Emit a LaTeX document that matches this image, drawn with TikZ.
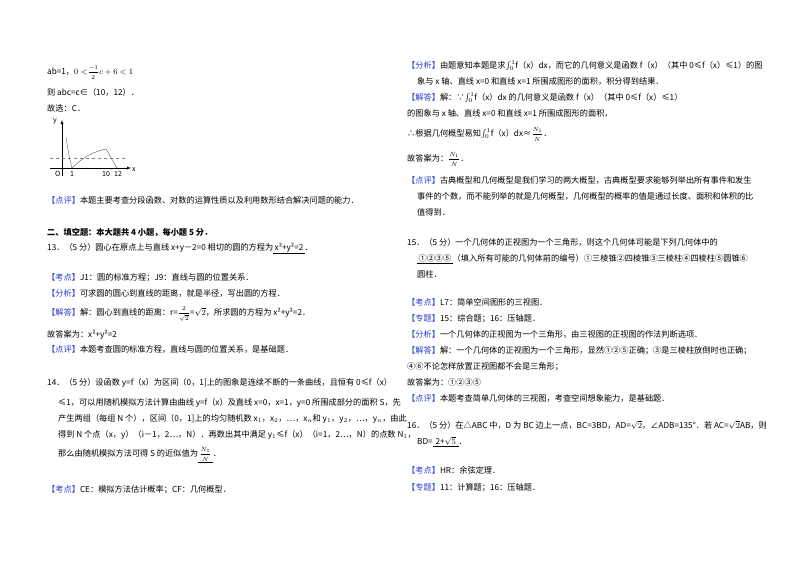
\documentclass[tikz,border=0pt]{standalone}
\usepackage{fontspec}
\setmainfont{Noto Sans CJK SC}
\usepackage{amsmath}
\definecolor{kb}{RGB}{40,60,210}
\begin{document}
\begin{tikzpicture}[x=1pt,y=-1pt,
  t/.style={anchor=base west,inner sep=0pt,font=\fontsize{8.2}{10}\selectfont},
  tb/.style={t,font=\fontsize{8.2}{10}\selectfont\bfseries}]
\useasboundingbox (0,0) rectangle (800,565);
\newcommand{\kw}[1]{\textcolor{kb}{【#1】}}
\newcommand{\ul}[1]{\underline{\hbox{\,#1\,}}}
\newcommand{\fr}[2]{{\fontsize{6.5}{7}\selectfont$\dfrac{#1}{#2}$}}
% left column
\node[t] (a1) at (47,74) {ab=1，$0<$\fr{-1}{2}$c+6<1$};
\node[t] (a2) at (47,95) {则 abc=c∈（10，12）．};
\node[t] (a3) at (47,111) {故选：C．};
% graph
\draw[->,>=latex,thin] (62,176) -- (62,120);
\draw[->,>=latex,thin] (50,168) -- (131,168);
\draw[dashed,gray] (50,158) -- (128,158);
\draw[gray!70!black,thin] (66,137) .. controls (68,150) and (70,162) .. (72,168)
  .. controls (82,158) and (92,152) .. (106,149) -- (117,168);
\node[t,font=\fontsize{7}{8}\selectfont\itshape] (gy) at (53,122) {y};
\node[t,font=\fontsize{7}{8}\selectfont\itshape] (gx) at (132,171) {x};
\node[t,font=\fontsize{7}{8}\selectfont\itshape] (go) at (55,176) {O};
\node[t,font=\fontsize{7}{8}\selectfont] (g1) at (70,176) {1};
\node[t,font=\fontsize{7}{8}\selectfont] (g10) at (102,176) {10};
\node[t,font=\fontsize{7}{8}\selectfont] (g12) at (114,176) {12};
\node[t] (a4) at (47,203) {\kw{点评}本题主要考查分段函数、对数的运算性质以及利用数形结合解决问题的能力．};
\node[tb] (a5) at (47,235) {二、填空题：本大题共 4 小题，每小题 5 分．};
\node[t] (a6) at (47,250) {13．（5 分）圆心在原点上与直线 x+y－2=0 相切的圆的方程为\ul{x²+y²=2}．};
\node[t] (a7) at (47,280) {\kw{考点}J1：圆的标准方程；J9：直线与圆的位置关系．};
\node[t] (a8) at (47,296) {\kw{分析}可求圆的圆心到直线的距离，就是半径，写出圆的方程．};
\node[t] (a9) at (47,315) {\kw{解答}解：圆心到直线的距离：r=\fr{2}{\sqrt2}=$\sqrt2$，所求圆的方程为 x²+y²=2．};
\node[t] (a10) at (47,337) {故答案为：x²+y²=2};
\node[t] (a11) at (47,352) {\kw{点评}本题考查圆的标准方程，直线与圆的位置关系，是基础题．};
\node[t] (a12) at (47,385) {14．（5 分）设函数 y=f（x）为区间（0，1]上的图象是连续不断的一条曲线，且恒有 0≤f（x）};
\node[t] (a13) at (58,405) {≤1，可以用随机模拟方法计算由曲线 y=f（x）及直线 x=0，x=1，y=0 所围成部分的面积 S，先};
\node[t] (a14) at (58,421) {产生两组（每组 N 个），区间（0，1]上的均匀随机数 x$_1$，x$_2$，…，x$_n$和 y$_1$，y$_2$，…，y$_n$，由此};
\node[t] (a15) at (58,437) {得到 N 个点（x，y）（i－1，2…，N）．再数出其中满足 y$_1$≤f（x）（i=1，2…，N）的点数 N$_1$，};
\node[t] (a16) at (58,456) {那么由随机模拟方法可得 S 的近似值为\ul{\fr{N_1}{N}}．};
\node[t] (a17) at (47,492) {\kw{考点}CE：模拟方法估计概率；CF：几何概型．};
% right column
\node[t] (b1) at (407,68) {\kw{分析}由题意知本题是求$\int_0^1$f（x）dx，而它的几何意义是函数 f（x）（其中 0≤f（x）≤1）的图};
\node[t] (b2) at (417,84) {象与 x 轴、直线 x=0 和直线 x=1 所围成图形的面积，积分得到结果．};
\node[t] (b3) at (407,100) {\kw{解答}解：∵$\int_0^1$f（x）dx 的几何意义是函数 f（x）（其中 0≤f（x）≤1）};
\node[t] (b4) at (407,116) {的图象与 x 轴、直线 x=0 和直线 x=1 所围成图形的面积，};
\node[t] (b5) at (407,136) {∴根据几何概型易知$\int_0^1$f（x）dx≈\fr{N_1}{N}．};
\node[t] (b6) at (407,161) {故答案为：\fr{N_1}{N}．};
\node[t] (b7) at (407,183) {\kw{点评}古典概型和几何概型是我们学习的两大概型，古典概型要求能够列举出所有事件和发生};
\node[t] (b8) at (417,199) {事件的个数，而不能列举的就是几何概型，几何概型的概率的值是通过长度、面积和体积的比};
\node[t] (b9) at (417,215) {值得到．};
\node[t] (b10) at (407,245) {15．（5 分）一个几何体的正视图为一个三角形，则这个几何体可能是下列几何体中的};
\node[t] (b11) at (417,261) {\ul{①②③⑤}（填入所有可能的几何体前的编号）①三棱锥②四棱锥③三棱柱④四棱柱⑤圆锥⑥};
\node[t] (b12) at (417,277) {圆柱．};
\node[t] (b13) at (407,305) {\kw{考点}L7：简单空间图形的三视图．};
\node[t] (b14) at (407,321) {\kw{专题}15：综合题；16：压轴题．};
\node[t] (b15) at (407,337) {\kw{分析}一个几何体的正视图为一个三角形，由三视图的正视图的作法判断选项．};
\node[t] (b16) at (407,353) {\kw{解答}解：一个几何体的正视图为一个三角形，显然①②⑤正确；③是三棱柱放倒时也正确；};
\node[t] (b17) at (407,369) {④⑥不论怎样放置正视图都不会是三角形；};
\node[t] (b18) at (407,385) {故答案为：①②③⑤};
\node[t] (b19) at (407,401) {\kw{点评}本题考查简单几何体的三视图，考查空间想象能力，是基础题．};
\node[t] (b20) at (407,428) {16．（5 分）在△ABC 中，D 为 BC 边上一点，BC=3BD，AD=$\sqrt2$，∠ADB=135°．若 AC=$\sqrt2$AB，则};
\node[t] (b21) at (417,444) {BD=\ul{\,2+$\sqrt5$\,}．};
\node[t] (b22) at (407,473) {\kw{考点}HR：余弦定理．};
\node[t] (b23) at (407,490) {\kw{专题}11：计算题；16：压轴题．};
\end{tikzpicture}
\end{document}
